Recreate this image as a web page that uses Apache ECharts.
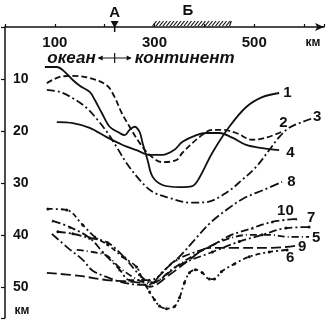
<!DOCTYPE html>
<html>
<head>
<meta charset="utf-8">
<script src="https://cdn.jsdelivr.net/npm/echarts/dist/echarts.min.js"></script>
<style>
  html, body { margin: 0; padding: 0; background: #fff; }
  #chart { width: 327px; height: 322px; }
</style>
</head>
<body>
<div id="chart"></div>
<script>
// profiles: [distance km, depth km]
const curve1 = [[80,7.7],[104,7.7],[116,8.3],[136,10.2],[150,11.3],[170,12.5],[180,14],[194,16.5],[210,19.2],[230,20.4],[240,20.8],[250,19.8],[260,19.2],[270,20.2],[276,22.3],[286,25.6],[296,28.8],[316,30.4],[350,30.8],[376,30.6],[390,29],[416,24.2],[450,19.2],[484,15.4],[516,13.5],[550,12.7]];
const curve2 = [[84,10.8],[110,9.6],[136,9.4],[170,9.8],[204,11.2],[220,13.5],[234,16.5],[250,19.2],[270,22.3],[290,24.6],[316,26],[344,25.6],[356,24.2],[390,21.2],[416,19.8],[436,19.8],[464,20.4],[496,21.7],[524,21.3],[554,20.2]];
const curve3 = [[84,12.1],[110,12.5],[136,13.7],[164,15.6],[186,17.9],[206,20.4],[224,23.1],[244,26.2],[270,29.4],[296,31.7],[330,32.9],[370,33.8],[404,33.7],[444,31.9],[476,29.4],[504,26.9],[530,23.7],[550,21.2],[570,19.4],[596,18.3],[614,17.7]];
const curve4 = [[104,18.3],[136,18.5],[170,19.4],[204,21.2],[236,22.7],[264,23.7],[290,24.6],[316,24.6],[340,23.6],[356,22.1],[384,20.8],[404,20.4],[430,20.4],[456,21.3],[484,22.7],[516,23.3],[550,23.7]];
const curve5 = [[144,42.9],[176,43.3],[204,44],[230,46.3],[260,48.3],[290,49.4],[340,46.3],[390,43.3],[440,41],[490,40],[530,40],[570,40.4],[610,40.4]];
const curve6 = [[86,35],[124,35.2],[156,38.1],[180,40.4],[206,41.9],[236,44.2],[264,46.2],[276,48.7],[290,51],[300,52.5],[310,53.7],[324,54.2],[340,53.8],[350,52.1],[360,49.2],[370,47.3],[382,46.7],[396,47.3],[410,48.5],[420,48.5],[434,47.1],[460,45.6],[490,44.2],[530,43.3],[566,42.9]];
const curve7 = [[106,39.4],[136,39.8],[170,40.6],[206,41.5],[240,44.4],[270,47.7],[294,49.2],[350,45.8],[416,43.3],[470,41.3],[516,40],[564,38.7],[610,38.5]];
const curve8 = [[94,39.8],[126,42.5],[156,44.8],[176,46.9],[204,48.1],[230,49],[270,49.6],[290,49.6],[316,47.1],[350,44.2],[380,41],[414,37.5],[450,34.8],[480,32.9],[520,31.3],[556,29.8]];
const curve9 = [[84,47.3],[150,47.9],[204,48.7],[270,49.2],[290,50],[330,47.7],[370,44.8],[410,42.5],[470,42.5],[536,42.5],[582,42.1]];
const curve10 = [[96,37.3],[130,38.5],[170,40.6],[196,43.3],[230,46.7],[250,48.7],[290,48.7],[344,44.8],[410,42.3],[450,40.2],[496,38.7],[536,37.5],[584,36.9]];

const xLabels = [100, 300, 500];
const yLabels = [10, 20, 30, 40, 50];
const pointA = 220;          // km
const zoneB = [296, 454];    // km

const dashDot = [8, 3, 2, 3];
const seriesDefs = [
  { name: '1', data: curve1, dash: 'solid', off: [0, 0] },
  { name: '2', data: curve2, dash: [6, 3], off: [-6, -9] },
  { name: '3', data: curve3, dash: dashDot, off: [-2, -2] },
  { name: '4', data: curve4, dash: 'solid', off: [3, 3] },
  { name: '8', data: curve8, dash: [9, 3, 2, 3], off: [1, 0] },
  { name: '10', data: curve10, dash: dashDot, off: [-23, -8], sym: 'triangle' },
  { name: '7', data: curve7, dash: dashDot, off: [-6, -9], sym: 'circle' },
  { name: '5', data: curve5, dash: [7, 3, 1, 3], off: [-1, 1] },
  { name: '9', data: curve9, dash: [10, 4], off: [-1, 1] },
  { name: '6', data: curve6, dash: [5, 3, 2, 3], off: [-5, 8], sym: 'circle' }
];

const chart = echarts.init(document.getElementById('chart'));
const txt = { color: '#111', fontFamily: 'Liberation Sans', fontWeight: 'bold' };

chart.setOption({
  animation: false,
  grid: { left: 5, top: 27, right: 2, bottom: 4 },
  xAxis: {
    type: 'value', position: 'top', min: 0, max: 640, interval: 100,
    axisLine: { lineStyle: { color: '#111', width: 1.5 }, symbol: ['none', 'arrow'], symbolSize: [6, 9] },
    axisTick: { show: true, length: 3, lineStyle: { color: '#111', width: 1.2 } },
    splitLine: { show: false },
    axisLabel: Object.assign({ inside: true, margin: 8, fontSize: 15,
      formatter: v => xLabels.includes(v) ? String(v) : '' }, txt)
  },
  yAxis: {
    type: 'value', inverse: true, min: 0, max: 56, interval: 10,
    axisLine: { show: true, lineStyle: { color: '#111', width: 1.5 } },
    axisTick: { show: true, length: 4, lineStyle: { color: '#111', width: 1.2 } },
    splitLine: { show: false },
    axisLabel: Object.assign({ inside: true, margin: 8, fontSize: 14,
      formatter: v => yLabels.includes(v) ? String(v) : '' }, txt)
  },
  series: seriesDefs.map(s => ({
    name: s.name, type: 'line', data: s.data, smooth: 0.35,
    symbol: s.sym || 'none', symbolSize: 3, showSymbol: !!s.sym,
    itemStyle: { color: '#111' },
    lineStyle: { color: '#111', width: 1.8, type: s.dash },
    endLabel: Object.assign({ show: true, formatter: '{a}', fontSize: 15, offset: s.off, distance: 4 }, txt)
  }))
});

// annotations above the axis
const px = km => chart.convertToPixel({ gridIndex: 0 }, [km, 0]);
const [ax, ay] = px(pointA);
const g = [];
g.push({ type: 'polygon', shape: { points: [[ax - 4, ay - 6], [ax + 4, ay - 6], [ax, ay + 1]] }, style: { fill: '#111' } });
g.push({ type: 'line', shape: { x1: ax, y1: ay, x2: ax, y2: ay + 5 }, style: { stroke: '#111', lineWidth: 1.5 } });
g.push({ type: 'text', x: ax, y: 13, style: Object.assign({ text: 'А', fontSize: 15, align: 'center', verticalAlign: 'middle', fill: '#111' }, txt) });
const b0 = px(zoneB[0])[0], b1 = px(zoneB[1])[0];
for (let x = b0; x < b1; x += 3.5) {
  g.push({ type: 'line', shape: { x1: x, y1: ay - 1, x2: Math.min(x + 4, b1), y2: ay - 6 }, style: { stroke: '#111', lineWidth: 1.2 } });
}
g.push({ type: 'text', x: (b0 + b1) / 2 - 4, y: 11, style: Object.assign({ text: 'Б', fontSize: 15, align: 'center', verticalAlign: 'middle', fill: '#111' }, txt) });
g.push({ type: 'text', x: 313, y: 43, style: Object.assign({ text: 'км', fontSize: 12, align: 'center', verticalAlign: 'middle', fill: '#111' }, txt) });
g.push({ type: 'text', x: 22, y: 311, style: Object.assign({ text: 'км', fontSize: 12, align: 'center', verticalAlign: 'middle', fill: '#111' }, txt) });
// ocean / continent boundary
const ly = 58;
g.push({ type: 'text', x: ax - 19, y: ly, style: Object.assign({ text: 'океан', fontSize: 17, fontStyle: 'italic', align: 'right', verticalAlign: 'middle', fill: '#111' }, txt) });
g.push({ type: 'text', x: ax + 20, y: ly, style: Object.assign({ text: 'континент', fontSize: 17, fontStyle: 'italic', align: 'left', verticalAlign: 'middle', fill: '#111' }, txt) });
g.push({ type: 'line', shape: { x1: ax, y1: ly - 5, x2: ax, y2: ly + 5 }, style: { stroke: '#111', lineWidth: 1.2 } });
g.push({ type: 'line', shape: { x1: ax - 16, y1: ly, x2: ax + 16, y2: ly }, style: { stroke: '#111', lineWidth: 1.2 } });
g.push({ type: 'polygon', shape: { points: [[ax - 17, ly], [ax - 12, ly - 2.5], [ax - 12, ly + 2.5]] }, style: { fill: '#111' } });
g.push({ type: 'polygon', shape: { points: [[ax + 17, ly], [ax + 12, ly - 2.5], [ax + 12, ly + 2.5]] }, style: { fill: '#111' } });
chart.setOption({ graphic: g });
</script>
</body>
</html>
